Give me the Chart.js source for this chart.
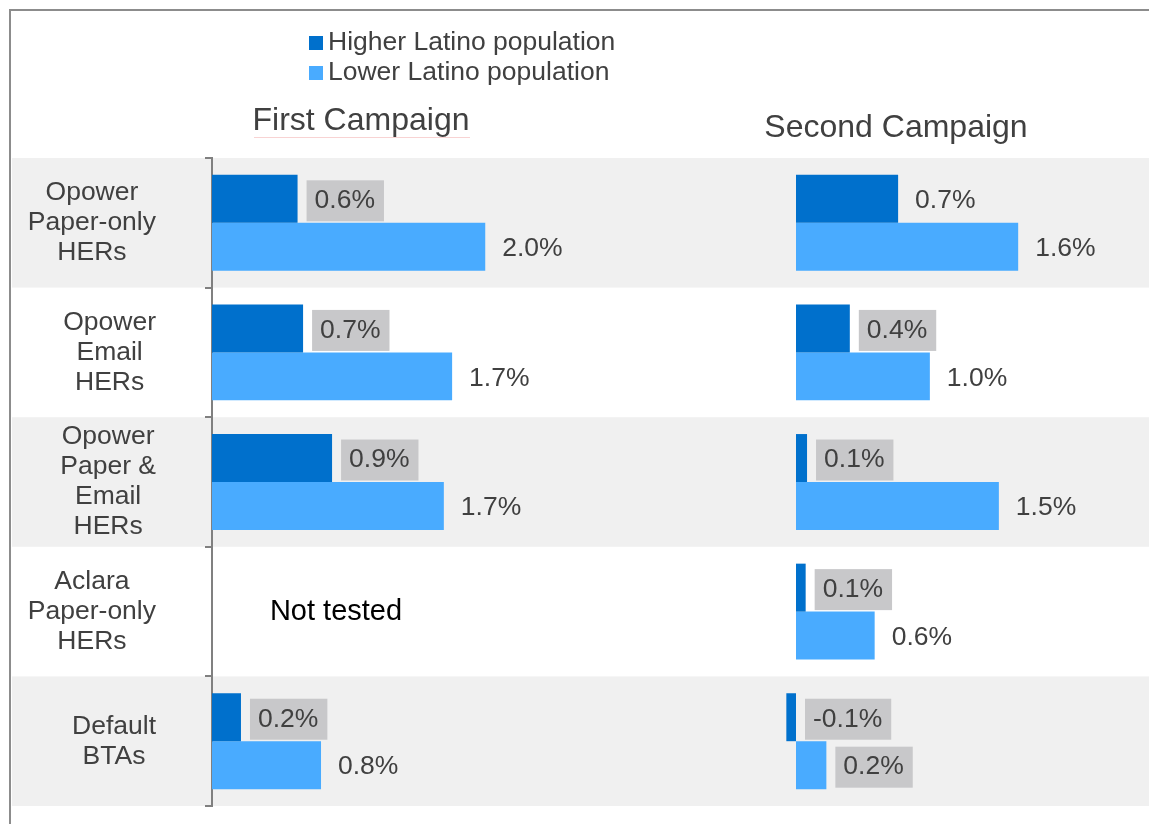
<!DOCTYPE html>
<html>
<head>
<meta charset="utf-8">
<script src="https://cdn.jsdelivr.net/npm/chart.js@4/dist/chart.umd.min.js"></script>
<style>
body { margin: 0; background: #fff; }
#wrap { width: 1149px; height: 824px; position: relative; }
</style>
</head>
<body>
<div id="wrap"><canvas id="Diagram1"></canvas></div>
<script>
// categories (multi-line)
var categories = [
    ['Opower', 'Paper-only', 'HERs'],
    ['Opower', 'Email', 'HERs'],
    ['Opower', 'Paper &', 'Email', 'HERs'],
    ['Aclara', 'Paper-only', 'HERs'],
    ['Default', 'BTAs']
];
var seriesNames = ['Higher Latino population', 'Lower Latino population'];
var campaignTitles = ['First Campaign', 'Second Campaign'];

// values in %, null = not tested
var firstHigher  = [0.62, 0.66, 0.87, null, 0.21];
var firstLower   = [1.98, 1.74, 1.68, null, 0.79];
var secondHigher = [0.74, 0.39, 0.08, 0.07, -0.07];
var secondLower  = [1.61, 0.97, 1.47, 0.57, 0.22];

// labels shown in a gray box
var firstHigherGray  = [true, true, true, false, true];
var firstLowerGray   = [false, false, false, false, false];
var secondHigherGray = [false, true, true, true, true];
var secondLowerGray  = [false, false, false, false, true];

var FONT = "'Liberation Sans', Arial, sans-serif";
var TEXT = '#404040';
var DARK = '#0070cc';
var LIGHT = '#49abff';
var W = 1149;
var PX_PER_PCT = 138;
var LEFT_ZERO = 212;
var RIGHT_ZERO = 796;

Chart.defaults.font.family = FONT;

var decor = {
    id: 'decor',
    beforeDraw: function(chart) {
        var ctx = chart.ctx;
        var area = chart.chartArea;
        var y = chart.scales.y;
        var step = (area.bottom - area.top) / categories.length;
        ctx.save();
        ctx.fillStyle = '#f0f0f0';
        for (var i = 0; i < categories.length; i += 2) {
            var c = y.getPixelForValue(i);
            ctx.fillRect(12, c - step / 2, chart.width - 12, step);
        }
        // frame
        ctx.fillStyle = '#8c8c8c';
        ctx.fillRect(9, 9, chart.width - 9, 2);
        ctx.fillRect(9, 9, 2, chart.height - 9);
        ctx.restore();
    },
    afterDraw: function(chart) {
        var ctx = chart.ctx;
        var y = chart.scales.y;
        ctx.save();
        ctx.font = '26.5px ' + FONT;
        ctx.textBaseline = 'middle';

        // category labels: centered lines, block right-aligned
        ctx.fillStyle = TEXT;
        ctx.textAlign = 'center';
        categories.forEach(function(lines, i) {
            var maxW = 0;
            lines.forEach(function(l) { maxW = Math.max(maxW, ctx.measureText(l).width); });
            var cx = 156 - maxW / 2;
            var cy = y.getPixelForValue(i);
            var top = cy - (lines.length - 1) * 30 / 2;
            lines.forEach(function(l, k) { ctx.fillText(l, cx, top + k * 30); });
        });

        // value labels
        ctx.textAlign = 'left';
        chart.data.datasets.forEach(function(ds, d) {
            var meta = chart.getDatasetMeta(d);
            meta.data.forEach(function(bar, i) {
                var v = ds.data[i];
                if (v === null) return;
                var txt = v.toFixed(1) + '%';
                var w = ctx.measureText(txt).width;
                var x0 = Math.max(bar.x, bar.base) + 9;
                var cy = bar.y + 2;
                if (ds.grayBox[i]) {
                    ctx.fillStyle = '#c8c8ca';
                    ctx.fillRect(x0, cy - 20.5, w + 17, 41);
                }
                ctx.fillStyle = TEXT;
                ctx.fillText(txt, x0 + 8, cy);
            });
        });

        // legend
        [DARK, LIGHT].forEach(function(col, k) {
            ctx.fillStyle = col;
            ctx.fillRect(309, 36 + k * 30, 14, 14);
            ctx.fillStyle = TEXT;
            ctx.fillText(seriesNames[k], 328, 43 + k * 30);
        });

        // not tested
        ctx.font = '29px ' + FONT;
        ctx.fillStyle = '#000';
        ctx.textAlign = 'center';
        firstHigher.forEach(function(v, i) {
            if (v === null) ctx.fillText('Not tested', 336, y.getPixelForValue(i));
        });

        // campaign titles
        ctx.font = '32px ' + FONT;
        ctx.fillStyle = TEXT;
        ctx.fillText(campaignTitles[0], 361, 121);
        ctx.fillText(campaignTitles[1], 896, 128);
        ctx.fillStyle = 'rgba(235,130,130,0.35)';
        ctx.fillRect(254, 137, 216, 1);
        ctx.restore();
    }
};

var ctx1 = document.getElementById('Diagram1').getContext('2d');
var BarChart1 = new Chart(ctx1, {
    type: 'bar',
    data: {
        labels: categories,
        datasets: [
        {
            label: seriesNames[0], data: firstHigher, grayBox: firstHigherGray,
            backgroundColor: DARK, xAxisID: 'x1', stack: 'h'
        },
        {
            label: seriesNames[1], data: firstLower, grayBox: firstLowerGray,
            backgroundColor: LIGHT, xAxisID: 'x1', stack: 'l'
        },
        {
            label: seriesNames[0], data: secondHigher, grayBox: secondHigherGray,
            backgroundColor: DARK, xAxisID: 'x2', stack: 'h'
        },
        {
            label: seriesNames[1], data: secondLower, grayBox: secondLowerGray,
            backgroundColor: LIGHT, xAxisID: 'x2', stack: 'l'
        }]
    },
    options: {
        indexAxis: 'y',
        responsive: true,
        maintainAspectRatio: false,
        animation: false,
        categoryPercentage: 0.74,
        barPercentage: 1,
        layout: { padding: { top: 158, bottom: 18, left: 0, right: 0 } },
        plugins: {
            legend: { display: false },
            tooltip: { enabled: false }
        },
        scales: {
            y: {
                afterFit: function(s) { s.width = LEFT_ZERO; },
                ticks: { display: false },
                grid: { drawOnChartArea: false, drawTicks: true, tickLength: 7, color: '#808080', lineWidth: 2, offset: true },
                border: { display: true, color: '#808080', width: 2 }
            },
            x1: {
                type: 'linear', axis: 'x', display: false,
                min: 0, max: (W - LEFT_ZERO) / PX_PER_PCT
            },
            x2: {
                type: 'linear', axis: 'x', display: false,
                min: -(RIGHT_ZERO - LEFT_ZERO) / PX_PER_PCT,
                max: (W - RIGHT_ZERO) / PX_PER_PCT
            }
        }
    },
    plugins: [decor]
});
</script>
</body>
</html>
